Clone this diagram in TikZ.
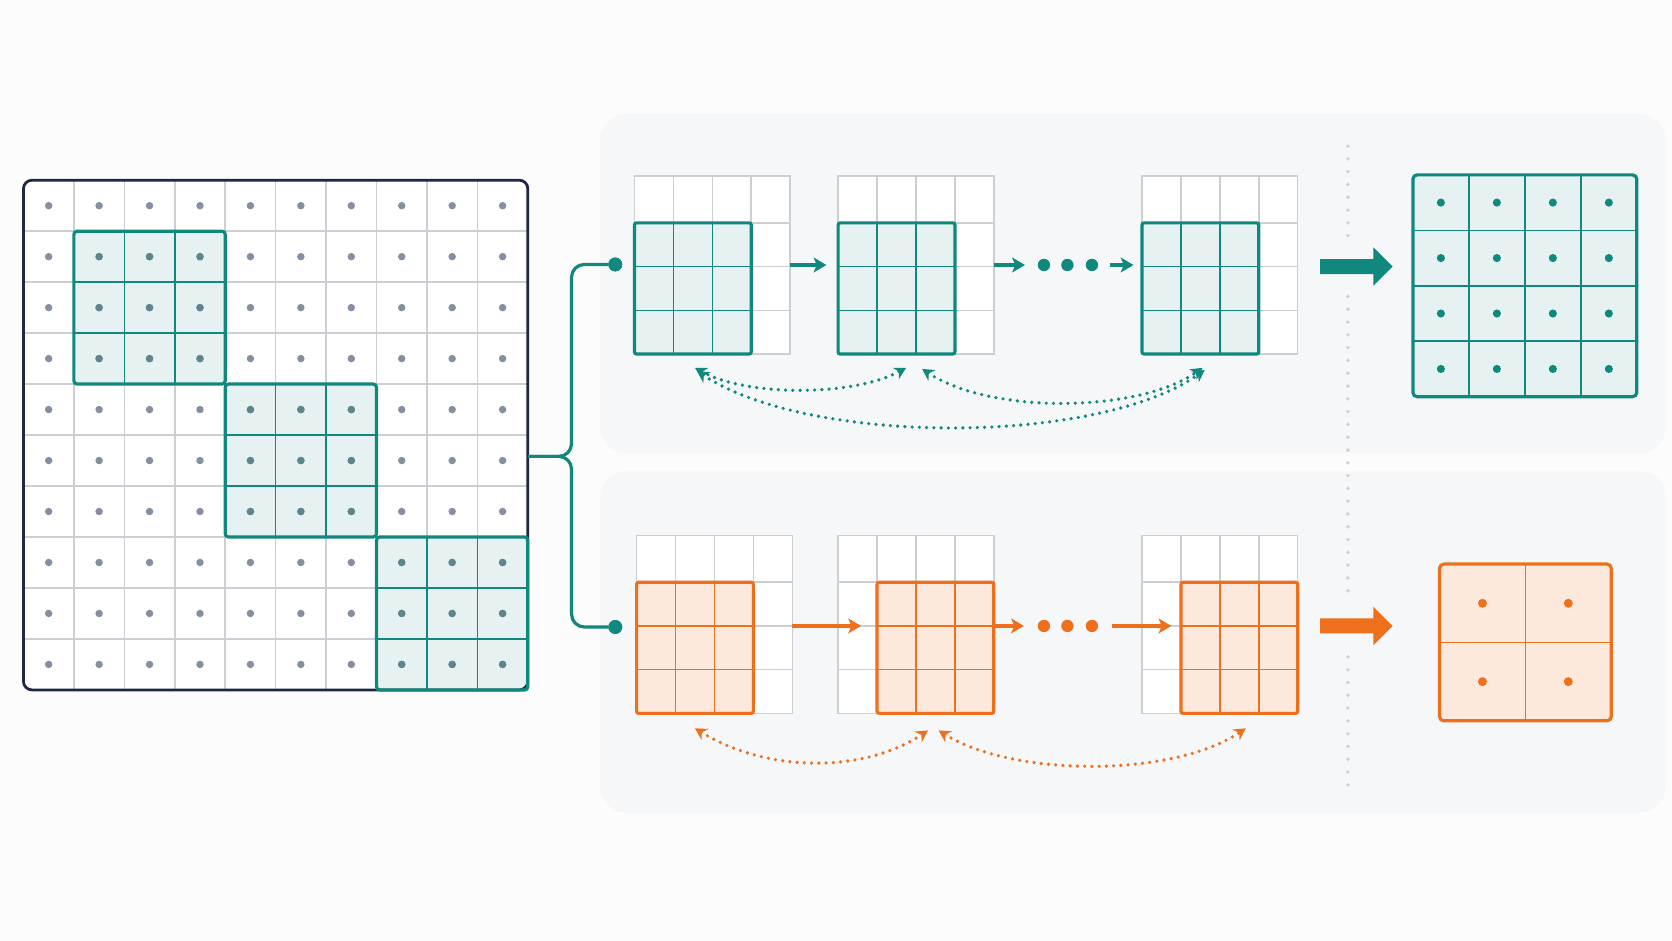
\documentclass[tikz,border=0pt]{standalone}
\usetikzlibrary{arrows.meta,calc}
\definecolor{teal1}{RGB}{16,136,125}
\definecolor{tealfill}{RGB}{229,242,241}
\definecolor{org}{RGB}{238,112,28}
\definecolor{orgfill}{RGB}{252,233,220}
\definecolor{gridgray}{RGB}{203,206,211}
\definecolor{navy}{RGB}{30,40,66}
\definecolor{dotgray}{RGB}{134,143,161}
\definecolor{dotteal}{RGB}{92,134,139}
\definecolor{panel}{RGB}{245,247,249}
\definecolor{bg}{RGB}{252,252,253}
\definecolor{divgray}{RGB}{206,210,215}
\tikzset{
  gl/.style={draw=gridgray, line width=0.7pt},
  arr/.style={line width=1.5pt, -{Stealth[length=6pt,width=7pt,inset=1.5pt]}},
  dotc/.style={line width=1.7pt, line cap=round, dash pattern=on 0pt off 3.4pt,
    {Stealth[length=5.5pt,width=6pt]}-{Stealth[length=5.5pt,width=6pt]}},
  conn/.style={draw=teal1, line width=1.5pt, rounded corners=6pt},
  edot/.style={circle, inner sep=0, outer sep=0, minimum size=5.8pt},
  bdot/.style={circle, inner sep=0, outer sep=0, minimum size=6.5pt, fill=teal1},
  box/.style={anchor=north west, inner sep=0, outer sep=0},
}
\newcommand{\sgrid}[3]{%
  \node[box, minimum width=73pt, minimum height=83.5pt, fill=white] (#1) at (#2,#3) {};
  \foreach \k in {1,2,3}{
    \draw[gl] (#2+\k*36.5,#3) -- ++(0,167);
  }
  \foreach \yy in {44,85,126}{
    \draw[gl] (#2,#3+\yy) -- ++(146,0);
  }
  \draw[gl] (#1.north west) rectangle (#1.south east);
}
\newcommand{\wind}[5]{%
  \node[box, minimum width=54.75pt, minimum height=61.5pt, fill=#5] (#1) at (#2,#3) {};
  \foreach \k in {1,2}{
    \draw[#4, line width=0.75pt] (#2+\k*36.5,#3) -- ++(0,123);
  }
  \foreach \yy in {41,82}{
    \draw[#4, line width=0.75pt] (#2,#3+\yy) -- ++(109.5,0);
  }
  \draw[#4, line width=1.5pt, rounded corners=1pt] (#1.north west) rectangle (#1.south east);
}
\begin{document}
\begin{tikzpicture}[x=0.5pt,y=-0.5pt]
% background
\fill[bg] (0,0) rectangle (1568,882);
\useasboundingbox (0,0) rectangle (1568,882);
\fill[panel, rounded corners=12pt] (563,107) rectangle (1562,425);
\fill[panel, rounded corners=12pt] (563,442) rectangle (1562,762);
% divider
\foreach \a/\b in {137/226, 278/562, 616/736}
  \draw[divgray, line width=1.8pt, line cap=round, dash pattern=on 0pt off 6pt] (1264,\a) -- (1264,\b);

% ---------- big matrix ----------
\node[inner sep=0, outer sep=0, minimum width=236.5pt, minimum height=239pt, fill=white, rounded corners=4pt] (M) at (258.5,408) {};
\foreach \b in {0,1,2}{
  \fill[tealfill] (22+47.3+\b*141.9,169+47.8+\b*143.4) rectangle ++(141.9,143.4);
}
\foreach \i in {1,...,9}{
  \draw[gl] (22+\i*47.3,169) -- (22+\i*47.3,647);
  \draw[gl] (22,169+\i*47.8) -- (495,169+\i*47.8);
}
\foreach \b in {0,1,2}{
  \foreach \k in {1,2}{
    \draw[teal1, line width=0.75pt] (22+47.3+\b*141.9+\k*47.3,169+47.8+\b*143.4) -- ++(0,143.4);
    \draw[teal1, line width=0.75pt] (22+47.3+\b*141.9,169+47.8+\b*143.4+\k*47.8) -- ++(141.9,0);
  }
}
\draw[navy, line width=1.3pt, rounded corners=4pt] (M.north west) rectangle (M.south east);
\foreach \b in {0,1,2}{
  \draw[teal1, line width=1.5pt, rounded corners=1.5pt] (22+47.3+\b*141.9,169+47.8+\b*143.4) rectangle ++(141.9,143.4);
}
\foreach \i in {0,...,9}{
  \foreach \j in {0,...,9}{
    \fill[dotgray] (22+\i*47.3+23.65,169+\j*47.8+23.9) circle[radius=1.75pt];
  }
}
\foreach \b in {0,1,2}{
  \foreach \i in {0,1,2}{
    \foreach \j in {0,1,2}{
      \fill[dotteal] (22+47.3+\b*141.9+\i*47.3+23.65,169+47.8+\b*143.4+\j*47.8+23.9) circle[radius=1.75pt];
    }
  }
}

% ---------- branch connector ----------
\node[bdot] (dt) at (577,248) {};
\node[bdot] (do) at (577,588) {};
\draw[conn] ($(M.east)+(0,20)$) -- ++(41,0) |- (dt);
\draw[conn] ($(M.east)+(0,20)$) -- ++(41,0) |- (do);
\node[bdot] at (dt) {};
\node[bdot] at (do) {};

% ---------- top row ----------
\sgrid{gt1}{595}{165}
\sgrid{gt2}{786}{165}
\sgrid{gt3}{1071}{165}
\wind{t1}{595}{209}{teal1}{tealfill}
\wind{t2}{786}{209}{teal1}{tealfill}
\wind{t3}{1071}{209}{teal1}{tealfill}
\node[edot, fill=teal1] (e1) at (979,248.5) {};
\node[edot, fill=teal1] (e2) at (1001,248.5) {};
\node[edot, fill=teal1] (e3) at (1024,248.5) {};
\draw[arr, teal1, shorten >=5.5pt] (gt1.east) -- (gt1.east -| t2.west);
\draw[arr, teal1, shorten >=6pt] (gt2.east) -- (e1);
\draw[arr, teal1, shorten <=5.7pt, shorten >=4pt] (e3) -- (e3 -| t3.west);
\draw[dotc, teal1] ($(t1.south)+(2,13)$) .. controls +(48,27) and +(-50,27) .. ($(t2.south)+(9,13)$);
\draw[dotc, teal1] ($(t1.south)+(4,16)$) .. controls +(105,70) and +(-100,71) .. ($(t3.south)+(4,15)$);
\draw[dotc, teal1] ($(t2.south)+(24,14)$) .. controls +(65,43) and +(-60,42) .. ($(t3.south)+(2,13)$);

% ---------- bottom row ----------
\sgrid{go1}{597}{502}
\sgrid{go2}{786}{502}
\sgrid{go3}{1071}{502}
\wind{o1}{597}{546}{org}{orgfill}
\wind{o2}{822.5}{546}{org}{orgfill}
\wind{o3}{1107.5}{546}{org}{orgfill}
\node[edot, fill=org] (f1) at (979,587) {};
\node[edot, fill=org] (f2) at (1001,587) {};
\node[edot, fill=org] (f3) at (1024,587) {};
\draw[arr, org, shorten >=7.5pt] (go1.east |- f1) -- (f1 -| o2.west);
\draw[arr, org, shorten >=6.5pt] (go2.east |- f1) -- (f1);
\draw[arr, org, shorten <=6.7pt, shorten >=4.5pt] (f3) -- (f3 -| o3.west);
\draw[dotc, org] ($(o1.south)+(0,14)$) .. controls +(68,42) and +(-60,40) .. ($(o2.south)+(-7,16)$);
\draw[dotc, org] ($(o2.south)+(3,16)$) .. controls +(70,44) and +(-68,46) .. ($(o3.south)+(6,14)$);

% ---------- big arrows ----------
\fill[teal1] (1238,243) -- (1288,243) -- (1288,232) -- (1306,250) -- (1288,268) -- (1288,257) -- (1238,257) -- cycle;
\fill[org] (1238,580) -- (1288,580) -- (1288,569) -- (1306,587) -- (1288,605) -- (1288,594) -- (1238,594) -- cycle;

% ---------- teal output ----------
\node[box, minimum width=105pt, minimum height=104pt, fill=tealfill] (T) at (1325,164) {};
\foreach \k in {1,2,3}{
  \draw[teal1, line width=0.75pt] (1325+\k*52.5,164) -- (1325+\k*52.5,372);
  \draw[teal1, line width=0.75pt] (1325,164+\k*52) -- (1535,164+\k*52);
}
\draw[teal1, line width=1.5pt, rounded corners=2pt] (T.north west) rectangle (T.south east);
\foreach \i in {0,...,3}{
  \foreach \j in {0,...,3}{
    \fill[teal1] (1325+26.25+\i*52.5,164+26+\j*52) circle[radius=1.9pt];
  }
}

% ---------- orange output ----------
\node[box, minimum width=80.5pt, minimum height=73.5pt, fill=orgfill] (O) at (1350,529) {};
\draw[org, line width=0.75pt] (O.north) -- (O.south);
\draw[org, line width=0.75pt] (O.west) -- (O.east);
\draw[org, line width=1.5pt, rounded corners=2pt] (O.north west) rectangle (O.south east);
\foreach \i in {0,1}{
  \foreach \j in {0,1}{
    \fill[org] (1390.25+\i*80.5,565.75+\j*73.5) circle[radius=2.1pt];
  }
}
\end{tikzpicture}
\end{document}
